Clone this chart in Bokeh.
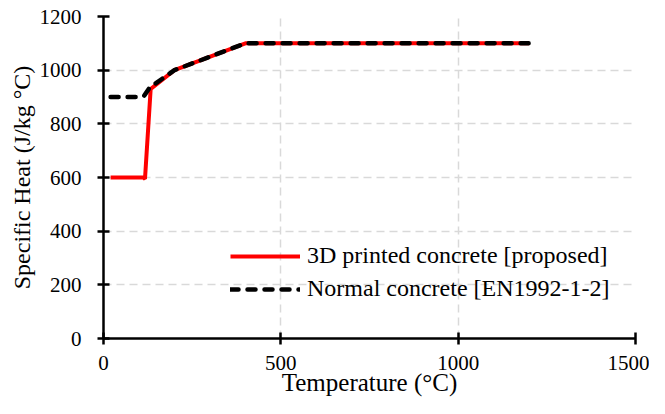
from bokeh.plotting import figure
from bokeh.embed import file_html
from bokeh.resources import INLINE
from bokeh.models import FixedTicker, Legend, LegendItem

# Data
temp_3d = [20, 112, 117, 133, 200, 400, 1200]
cp_3d = [600, 600, 595, 930, 1000, 1100, 1100]
temp_nc = [20, 105, 115, 130, 200, 400, 1200]
cp_nc = [900, 900, 905, 935, 1000, 1100, 1100]
x_ticks = [0, 500, 1000, 1500]
y_ticks = [0, 200, 400, 600, 800, 1000, 1200]

FONT = "'Liberation Serif', serif"

p = figure(width=649, height=398, output_backend="svg", toolbar_location=None,
           x_range=(0, 1500), y_range=(0, 1200))
p.min_border_left = 103
p.min_border_right = 14
p.min_border_top = 16
p.min_border_bottom = 57
p.outline_line_color = None
p.background_fill_color = "white"

r1 = p.line(temp_3d, cp_3d, line_color="#ff0000", line_width=4)
r2 = p.line(temp_nc, cp_nc, line_color="black", line_width=4.5,
            line_dash="8 9", line_cap="round")

for ax in (p.xaxis[0], p.yaxis[0]):
    ax.axis_line_width = 2.5
    ax.axis_line_color = "black"
    ax.major_tick_line_width = 2.5
    ax.major_tick_line_color = "black"
    ax.major_tick_in = 6
    ax.major_tick_out = 6
    ax.minor_tick_line_color = None
    ax.major_label_text_font = FONT
    ax.major_label_text_font_size = "21px"
    ax.major_label_text_color = "black"
    ax.axis_label_text_font = FONT
    ax.axis_label_text_font_style = "normal"
    ax.axis_label_text_color = "black"

p.xaxis[0].axis_label_text_font_size = "25px"
p.yaxis[0].axis_label_text_font_size = "24px"
p.xaxis[0].ticker = FixedTicker(ticks=x_ticks)
p.yaxis[0].ticker = FixedTicker(ticks=y_ticks)
p.xaxis[0].axis_label = "Temperature (°C)"
p.yaxis[0].axis_label = "Specific Heat (J/kg °C)"
p.xaxis[0].major_label_standoff = 11
p.yaxis[0].major_label_standoff = 16
p.xaxis[0].axis_label_standoff = -4
p.yaxis[0].axis_label_standoff = 2

p.xgrid.ticker = FixedTicker(ticks=[500, 1000])
p.ygrid.ticker = FixedTicker(ticks=[200, 400, 600, 800, 1000])
for g in (p.xgrid[0], p.ygrid[0]):
    g.grid_line_color = "#d9d9d9"
    g.grid_line_width = 1.5
    g.grid_line_dash = "8 5"

legend = Legend(items=[
    LegendItem(label="3D printed concrete [proposed]", renderers=[r1]),
    LegendItem(label="Normal concrete [EN1992-1-2]", renderers=[r2]),
], location=(127, 36))
legend.border_line_color = None
legend.background_fill_alpha = 0
legend.label_text_font = FONT
legend.label_text_font_size = "24px"
legend.label_text_color = "black"
legend.glyph_width = 70
legend.label_standoff = 7
legend.spacing = 6
legend.padding = 0
legend.margin = 0
p.add_layout(legend, "center")

open("out.html", "w").write(file_html(p, INLINE))
